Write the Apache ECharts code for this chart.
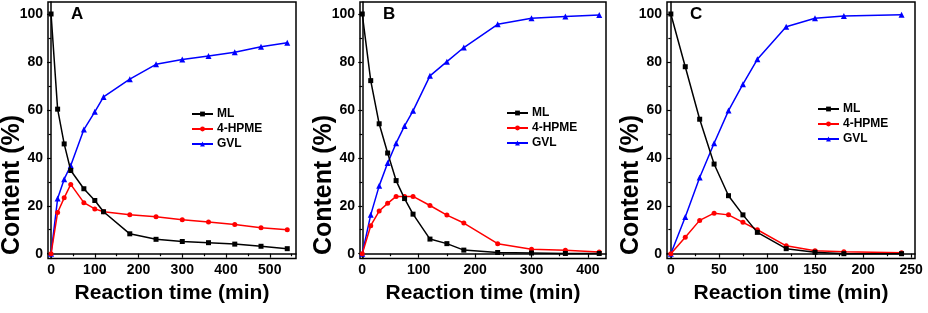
<!DOCTYPE html>
<html>
<head>
<meta charset="utf-8">
<script src="https://cdn.jsdelivr.net/npm/echarts@6/dist/echarts.min.js"></script>
<style>
  html, body { margin: 0; padding: 0; background: #fff; }
  #chart { width: 928px; height: 313px; }
</style>
</head>
<body>
<div id="chart"></div>
<script>
// data
const timeA = [0, 15, 30, 45, 75, 100, 120, 180, 240, 300, 360, 420, 480, 540];
const mlA   = [100, 60.3, 45.8, 34.7, 27.1, 22.2, 17.5, 8.3, 6.0, 5.1, 4.6, 4.0, 3.1, 2.1];
const hpmeA = [0, 17.2, 23.3, 28.9, 21.3, 18.7, 17.5, 16.3, 15.4, 14.2, 13.2, 12.2, 10.8, 10.0];
const gvlA  = [0, 23.0, 31.1, 36.8, 51.8, 59.2, 65.4, 72.8, 79.0, 81.0, 82.5, 84.0, 86.3, 88.0];

const timeB = [0, 15, 30, 45, 60, 75, 90, 120, 150, 180, 240, 300, 360, 420];
const mlB   = [100, 72.2, 54.2, 42.0, 30.5, 23.0, 16.5, 6.1, 4.2, 1.5, 0.5, 0.3, 0.1, 0.1];
const hpmeB = [0, 11.7, 17.8, 21.0, 23.9, 23.9, 23.9, 20.1, 16.1, 12.8, 4.2, 1.9, 1.4, 0.7];
const gvlB  = [0, 16.2, 28.3, 37.8, 46.1, 53.3, 59.6, 74.2, 80.1, 86.0, 95.7, 98.2, 98.9, 99.6];

const timeC = [0, 15, 30, 45, 60, 75, 90, 120, 150, 180, 240];
const mlC   = [100, 78.0, 56.1, 37.4, 24.2, 16.2, 8.9, 2.1, 0.6, 0.0, 0.0];
const hpmeC = [0, 6.9, 13.9, 16.9, 16.2, 13.1, 10.0, 3.3, 1.2, 0.8, 0.4];
const gvlC  = [0, 15.3, 31.8, 46.1, 59.7, 70.7, 81.1, 94.7, 98.2, 99.2, 99.7];

const xMajorA = [0, 100, 200, 300, 400, 500];
const xMinorA = [50, 150, 250, 350, 450, 550];
const xMajorB = [0, 100, 200, 300, 400];
const xMinorB = [50, 150, 250, 350];
const xMajorC = [0, 50, 100, 150, 200, 250];
const xMinorC = [25, 75, 125, 175, 225];
const yMajor = [0, 20, 40, 60, 80, 100];
const yMinor = [10, 30, 50, 70, 90];

const seriesNames = ['ML', '4-HPME', 'GVL'];
const letters = ['A', 'B', 'C'];

const font = 'Liberation Sans, Arial, sans-serif';
const colors = ['#000000', '#ff0000', '#0000ff'];
const symbols = ['rect', 'circle', 'triangle'];
const symbolSizes = [5, 5, 6];

const panels = [
  { left: 48,  width: 248, xmin: -7, xmax: 560, major: xMajorA, minor: xMinorA, t: timeA, ys: [mlA, hpmeA, gvlA], legLeft: 186, legTop: 103 },
  { left: 360, width: 246, xmin: -4, xmax: 432, major: xMajorB, minor: xMinorB, t: timeB, ys: [mlB, hpmeB, gvlB], legLeft: 501, legTop: 102 },
  { left: 667, width: 248, xmin: -4, xmax: 254, major: xMajorC, minor: xMinorC, t: timeC, ys: [mlC, hpmeC, gvlC], legLeft: 812, legTop: 98 }
];

const grid = [], xAxis = [], yAxis = [], series = [], legend = [], title = [], graphic = [];

panels.forEach((p, i) => {
  grid.push({
    left: p.left, top: 2, width: p.width, height: 256.5,
    show: true, borderColor: '#000', borderWidth: 1.5, backgroundColor: 'transparent'
  });
  // main x axis
  xAxis.push({
    type: 'value', gridIndex: i, position: 'bottom', min: p.xmin, max: p.xmax,
    name: 'Reaction time (min)', nameLocation: 'middle', nameGap: 22,
    nameTextStyle: { fontFamily: font, fontSize: 21, fontWeight: 'bold', color: '#000' },
    axisLine: { show: true, lineStyle: { color: '#000', width: 1.5 } },
    axisTick: { show: true, length: 4, customValues: p.major, lineStyle: { color: '#000', width: 1.2 } },
    axisLabel: { customValues: p.major, margin: 5, fontFamily: font, fontSize: 14, fontWeight: 'bold', color: '#000', showMinLabel: true, showMaxLabel: true },
    splitLine: { show: false }
  });
  // minor ticks on x
  xAxis.push({
    type: 'value', gridIndex: i, position: 'bottom', min: p.xmin, max: p.xmax,
    axisLine: { show: false },
    axisTick: { show: true, length: 2.5, customValues: p.minor, lineStyle: { color: '#000', width: 1.2 } },
    axisLabel: { show: false },
    splitLine: { show: false }
  });
  // main y axis
  yAxis.push({
    type: 'value', gridIndex: i, position: 'left', min: -2, max: 105,
    axisLine: { show: true, lineStyle: { color: '#000', width: 1.5 } },
    axisTick: { show: true, length: 4, customValues: yMajor, lineStyle: { color: '#000', width: 1.2 } },
    axisLabel: { customValues: yMajor, margin: 5, fontFamily: font, fontSize: 14, fontWeight: 'bold', color: '#000' },
    splitLine: { show: false }
  });
  // minor ticks on y
  yAxis.push({
    type: 'value', gridIndex: i, position: 'left', min: -2, max: 105,
    axisLine: { show: false },
    axisTick: { show: true, length: 2.5, customValues: yMinor, lineStyle: { color: '#000', width: 1.2 } },
    axisLabel: { show: false },
    splitLine: { show: false }
  });

  p.ys.forEach((vals, k) => {
    series.push({
      name: seriesNames[k], type: 'line',
      xAxisIndex: 2 * i, yAxisIndex: 2 * i,
      data: p.t.map((x, j) => [x, vals[j]]),
      symbol: symbols[k], symbolSize: symbolSizes[k],
      itemStyle: { color: colors[k] },
      lineStyle: { color: colors[k], width: 1.5 },
      z: 3 - k + 2,
      animation: false
    });
  });

  legend.push({
    orient: 'vertical', left: p.legLeft, top: p.legTop,
    itemWidth: 21, itemHeight: 6, itemGap: 3,
    data: seriesNames,
    textStyle: { fontFamily: font, fontSize: 12, fontWeight: 'bold', color: '#000', padding: [0, 0, 0, -1] },
    selectedMode: false
  });

  title.push({
    text: letters[i], left: p.left + 23, top: 6, padding: 0,
    textStyle: { fontFamily: font, fontSize: 17, fontWeight: 'bold', color: '#000' }
  });

  // y axis title, rotated
  graphic.push({
    type: 'text', x: p.left - 36, y: 185, rotation: Math.PI / 2,
    style: {
      text: 'Content (%)', fill: '#000', align: 'center', verticalAlign: 'middle',
      font: 'bold 25px ' + font
    }
  });
});

const chart = echarts.init(document.getElementById('chart'), null, { renderer: 'canvas' });
chart.setOption({
  backgroundColor: '#fff',
  animation: false,
  title: title,
  grid: grid,
  xAxis: xAxis,
  yAxis: yAxis,
  legend: legend,
  graphic: graphic,
  series: series
});
</script>
</body>
</html>
